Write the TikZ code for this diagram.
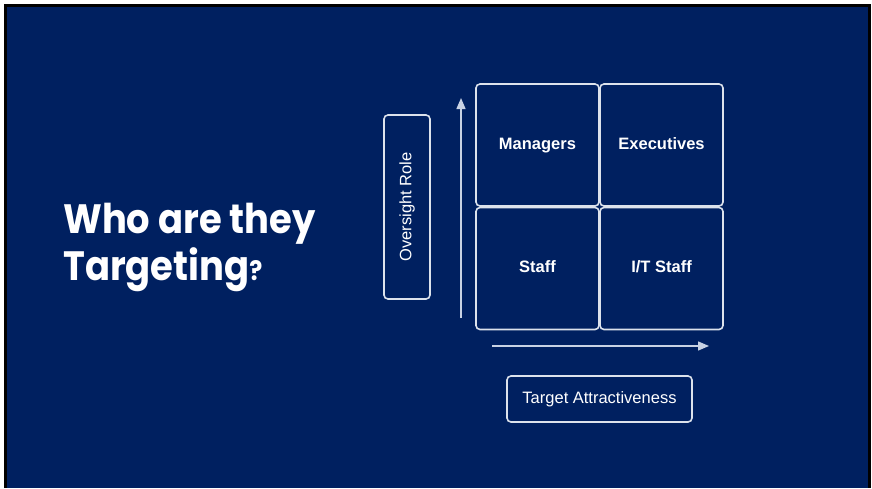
\documentclass[tikz,border=0pt]{standalone}
\usepackage{fontspec}
\setmainfont{Liberation Sans}
\newfontfamily\titlefont{Poppins}[FakeStretch=0.9]
\usetikzlibrary{arrows.meta,positioning}

\begin{document}
\begin{tikzpicture}[x=1pt,y=-1pt]
% Define colors
\definecolor{slidebg}{RGB}{0,32,96}
\definecolor{gridline}{RGB}{220,226,236}
\definecolor{axisline}{RGB}{200,210,228}

% Styles
\tikzset{
  cellbox/.style={draw=gridline,line width=1.6pt,rounded corners=4pt,minimum width=123pt,minimum height=122pt,text height=12pt,text depth=3.5pt,text=white,font=\fontsize{16.5}{18}\selectfont\bfseries},
  labelbox/.style={draw=gridline,line width=1.6pt,rounded corners=4pt,text=white,font=\fontsize{16.5}{18}\selectfont},
  axis/.style={axisline,line width=1.4pt,-{Triangle[length=11pt,width=9pt]}}
}

% Slide background and frame
\useasboundingbox (0,0) rectangle (872,488);
\fill[white] (0,0) rectangle (872,488);
\fill[black] (4,4) rectangle (871,488);
\fill[slidebg] (7,7) rectangle (868,488);

% Title
\node[anchor=base west,text=white,font=\titlefont\bfseries\fontsize{41}{44}\selectfont,inner sep=0pt] (title1) at (63,233) {Who are they};
\node[anchor=base west,text=white,font=\titlefont\bfseries\fontsize{41}{44}\selectfont,inner sep=0pt] (title2) at (63,280) {Targeting{\fontsize{27}{30}\selectfont?}};

% Quadrant cells
\node[cellbox] (managers) at (537.5,145) {Managers};
\node[cellbox] (executives) at (661.5,145) {Executives};
\node[cellbox] (staff) at (537.5,268.5) {Staff};
\node[cellbox] (itstaff) at (661.5,268.5) {I/T Staff};

% Axes
\coordinate (ybot) at (461,318);
\coordinate (ytop) at (461,98);
\coordinate (xleft) at (492,346);
\coordinate (xright) at (709,346);
\draw[axis] (ybot) -- (ytop);
\draw[axis] (xleft) -- (xright);

% Axis labels
\node[labelbox,minimum width=184pt,minimum height=46pt,rotate=90] (oversight) at (407,207) {Oversight Role};
\node[labelbox,minimum width=185pt,minimum height=46pt] (attract) at (599.5,399) {Target Attractiveness};
\end{tikzpicture}
\end{document}
